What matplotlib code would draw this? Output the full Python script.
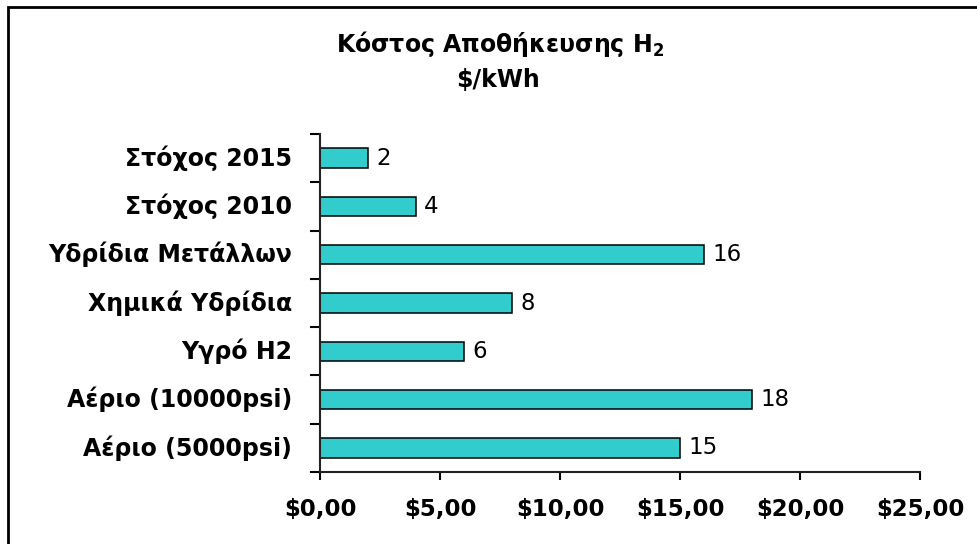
"""Κόστος αποθήκευσης H2 ($/kWh) — οριζόντιο bar chart."""

import matplotlib

matplotlib.use("Agg")
import matplotlib.pyplot as plt
from matplotlib.patches import Rectangle
from matplotlib.ticker import FixedLocator, FuncFormatter

# ---- δεδομένα (από κάτω προς τα πάνω)
categories = [
    "Αέριο (5000psi)",
    "Αέριο (10000psi)",
    "Υγρό H2",
    "Χημικά Υδρίδια",
    "Υδρίδια Μετάλλων",
    "Στόχος 2010",
    "Στόχος 2015",
]
values = [15, 18, 6, 8, 16, 4, 2]
x_ticks = [0, 5, 10, 15, 20, 25]

# το πρωτότυπο έχει φαρδιά γράμματα — το DejaVu Sans ταιριάζει καλύτερα σε πλάτος
plt.rcParams["font.family"] = ["DejaVu Sans"]
plt.rcParams["mathtext.fontset"] = "dejavusans"

fig = plt.figure(figsize=(9.78, 5.44), dpi=100)
W, H = 978, 544
ax = fig.add_axes([320 / W, 1 - 472 / H, 600 / W, (472 - 134) / H])

pos = list(range(len(categories)))
ax.barh(pos, values, height=0.4, color="#33CCCC", edgecolor="black", linewidth=1.1, zorder=2)

for y, v in zip(pos, values):
    ax.annotate(str(v), xy=(v, y), xytext=(6, 0), textcoords="offset points",
                va="center", ha="left", fontsize=16.5, color="black")

ax.set_xlim(0, 25)
ax.set_ylim(-0.5, len(categories) - 0.5)

ax.xaxis.set_major_locator(FixedLocator(x_ticks))
ax.xaxis.set_major_formatter(FuncFormatter(lambda v, _: f"${v:.2f}".replace(".", ",")))
ax.tick_params(axis="x", direction="out", length=6, width=1.5, pad=13,
               labelsize=16.5, colors="black")
for lbl in ax.get_xticklabels():
    lbl.set_fontweight("bold")

# κατηγορίες στο κέντρο, tick στα όρια
ax.set_yticks(pos)
ax.set_yticklabels(categories, fontweight="bold", fontsize=17, va="center")
ax.set_yticks([p - 0.5 for p in pos] + [len(pos) - 0.5], minor=True)
ax.tick_params(axis="y", which="major", length=0, pad=20)
ax.tick_params(axis="y", which="minor", direction="out", length=7, width=1.5)

for side in ("top", "right"):
    ax.spines[side].set_visible(False)
for side in ("left", "bottom"):
    ax.spines[side].set_linewidth(1.5)
    ax.spines[side].set_color("#222222")

fig.text(500 / W, 1 - 52 / H, r"Κόστος Αποθήκευσης H$_{\mathbf{2}}$",
         ha="center", va="baseline", fontsize=17, fontweight="bold")
fig.text(498 / W, 1 - 87 / H, "$/kWh", ha="center", va="baseline",
         fontsize=17, fontweight="bold")

# πλαίσιο γύρω από το γράφημα (κάτω/δεξιά εκτός εικόνας)
fig.patches.append(Rectangle((8 / W, -0.05), 1.2, 1.05 - 7 / H, transform=fig.transFigure,
                             fill=False, edgecolor="black", linewidth=2))

fig.savefig("out.png", dpi=100)
